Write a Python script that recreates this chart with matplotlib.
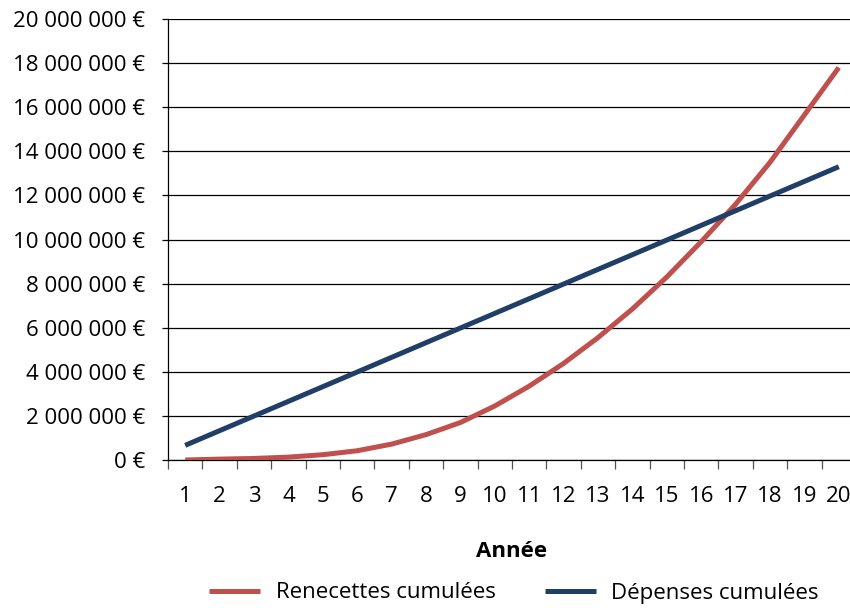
import matplotlib
matplotlib.use("Agg")
import matplotlib.pyplot as plt

plt.rcParams['font.family'] = ['Open Sans', 'DejaVu Sans']

# Données (en euros)
annees = list(range(1, 21))
recettes = [0, 40000, 70000, 130000, 240000, 420000, 720000, 1150000, 1700000, 2450000,
            3350000, 4380000, 5550000, 6850000, 8300000, 9900000, 11600000, 13500000,
            15650000, 17800000]
depenses = [665000, 1330000, 1995000, 2660000, 3325000, 3990000, 4655000, 5320000,
            5985000, 6650000, 7315000, 7980000, 8645000, 9310000, 9975000, 10640000,
            11305000, 11970000, 12635000, 13300000]
y_ticks = [0, 2000000, 4000000, 6000000, 8000000, 10000000, 12000000, 14000000,
           16000000, 18000000, 20000000]
y_labels = ['0 €', '2 000 000 €', '4 000 000 €', '6 000 000 €', '8 000 000 €',
            '10 000 000 €', '12 000 000 €', '14 000 000 €', '16 000 000 €',
            '18 000 000 €', '20 000 000 €']

rouge = '#C0504D'
bleu = '#1F3E68'

fig = plt.figure(figsize=(8.5, 6.08), dpi=100)
ax = fig.add_axes([168 / 850, 1 - 460 / 608, 688 / 850, 441 / 608])

ax.plot(annees, recettes, color=rouge, lw=3.6, solid_capstyle='butt',
        label='Renecettes cumulées', zorder=3)
ax.plot(annees, depenses, color=bleu, lw=3.6, solid_capstyle='butt',
        label='Dépenses cumulées', zorder=3)

ax.set_xlim(0.5, 20.5)
ax.set_ylim(0, 20000000)

# axe des ordonnées
ax.set_yticks(y_ticks)
ax.set_yticklabels(y_labels)
ax.yaxis.grid(True, color='black', lw=0.9)
ax.set_axisbelow(True)
ax.tick_params(axis='y', length=4.5, width=0.9, pad=12, labelsize=16, color='black')

# axe des abscisses : graduations entre les catégories, étiquettes au centre
ax.set_xticks([i + 0.5 for i in range(0, 21)])
ax.set_xticklabels([])
ax.set_xticks(annees, minor=True)
ax.set_xticklabels([str(a) for a in annees], minor=True)
ax.tick_params(axis='x', which='major', length=6.5, width=0.9, color='#555555')
ax.tick_params(axis='x', which='minor', length=0, pad=19, labelsize=16)

for s in ['top', 'right']:
    ax.spines[s].set_visible(False)
ax.spines['left'].set_linewidth(0.9)
ax.spines['bottom'].set_linewidth(0.9)

ax.set_xlabel('Année', fontsize=16, fontweight='bold', labelpad=24)

fig.legend(loc='center', bbox_to_anchor=(514 / 850, 1 - 593 / 608), ncol=2,
           frameon=False, fontsize=16, handlelength=2.3, columnspacing=2.2,
           handletextpad=0.7)

fig.savefig('out.png', dpi=100)
